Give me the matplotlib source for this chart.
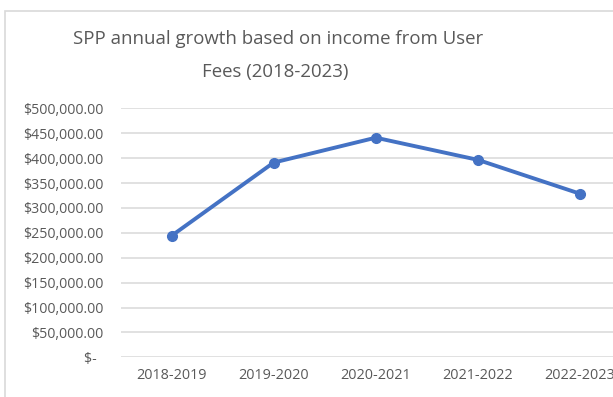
import numpy as np
import matplotlib; matplotlib.use("Agg")
import matplotlib.pyplot as plt
from matplotlib.patches import Rectangle

# values
periodos = ["2018-2019", "2019-2020", "2020-2021", "2021-2022", "2022-2023"]
receita  = [244000, 391000, 441000, 396500, 328500]
yticks   = [0, 50000, 100000, 150000, 200000, 250000, 300000, 350000, 400000, 450000, 500000]

AZUL  = "#4472C4"
CINZA = "#595959"
GRADE = "#D9D9D9"

plt.rcParams["font.family"] = ["Open Sans", "DejaVu Sans"]

W, H = 613, 397
fig = plt.figure(figsize=(W/100, H/100), dpi=100)

# chart border (cropped on right / bottom in the reference)
fig.patches.append(Rectangle((5/W, -0.1), 1.2, 1 - 10.5/H + 0.1, transform=fig.transFigure,
                             fill=False, edgecolor="#D9D9D9", linewidth=1.2))

left, right = 120.5, 631.0
bottom, top = 357.3, 108.3
ax = fig.add_axes([left/W, 1 - bottom/H, (right-left)/W, (bottom-top)/H])

x = np.arange(len(periodos))
ax.plot(x, receita, color=AZUL, linewidth=2.8, marker="o", markersize=7,
        solid_capstyle="round", zorder=3, clip_on=False)

ax.set_xlim(-0.5, len(periodos) - 0.5)
ax.set_ylim(0, 500000)
ax.set_yticks(yticks)
ax.set_yticklabels(["$-  "] + [f"${v:,.2f}" for v in yticks[1:]], fontsize=10.2, color=CINZA)
ax.set_xticks(x)
ax.set_xticklabels(periodos, fontsize=10.4, color=CINZA)
ax.tick_params(axis="both", length=0)
ax.tick_params(axis="y", pad=12)
ax.tick_params(axis="x", pad=8)
ax.grid(axis="y", color=GRADE, linewidth=1.1)
ax.set_axisbelow(True)
for s in ax.spines.values():
    s.set_visible(False)

fig.text(278/W, 1 - 39/H, "SPP annual growth based on income from User",
         ha="center", va="center", fontsize=13.4, color=CINZA)
fig.text(275/W, 1 - 72/H, "Fees (2018-2023)",
         ha="center", va="center", fontsize=13.4, color=CINZA)

fig.savefig("out.png", dpi=100)
